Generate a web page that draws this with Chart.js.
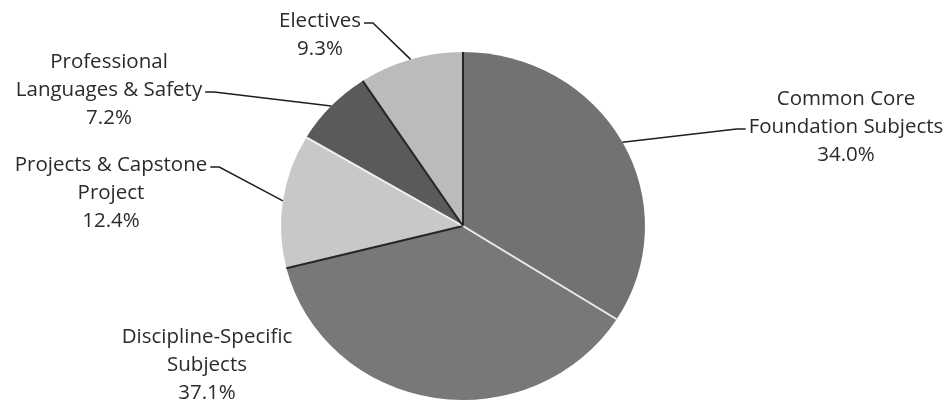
<!DOCTYPE html>
<html>
<head>
<meta charset="utf-8">
<script src="https://cdn.jsdelivr.net/npm/chart.js@4.4.0/dist/chart.umd.min.js"></script>
<style>
  html, body { margin: 0; padding: 0; background: #fff; }
  canvas { display: block; }
</style>
</head>
<body>
<canvas id="pie" width="950" height="402"></canvas>
<script>
const categories = ['Common Core Foundation Subjects', 'Discipline-Specific Subjects', 'Projects & Capstone Project', 'Professional Languages & Safety', 'Electives'];
const shares = [34.0, 37.1, 12.4, 7.2, 9.3];
const labelLines = [
  ['Common Core', 'Foundation Subjects'],
  ['Discipline-Specific', 'Subjects'],
  ['Projects & Capstone', 'Project'],
  ['Professional', 'Languages & Safety'],
  ['Electives']
];

const fills = ['#727272', '#787878', '#c8c8c8', '#5a5a5a', '#bbbbbb'];
// line drawn at the start edge of each slice
const sepColors = ['#262626', '#ececec', '#262626', '#f2f2f2', '#262626'];
// text block: center x, baseline of first line, side the leader joins, leader row
const labelPos = [
  { x: 846, y: 105, lead: 'left', row: 1 },
  { x: 207, y: 343, lead: null },
  { x: 111, y: 171, lead: 'right', row: 0 },
  { x: 109, y: 68, lead: 'right', row: 1 },
  { x: 320, y: 27, lead: 'right', row: 0 }
];
const lineH = 28;
// pie is drawn a little flattened, like the original
const squash = 0.956;
const centerY = 226;

const pieLabels = {
  id: 'pieLabels',
  beforeDatasetsDraw(chart) {
    const arc = chart.getDatasetMeta(0).data[0];
    const ctx = chart.ctx;
    ctx.save();
    ctx.translate(0, centerY);
    ctx.scale(1, squash);
    ctx.translate(0, -arc.y);
  },
  afterDatasetsDraw(chart) {
    const ctx = chart.ctx;
    const arcs = chart.getDatasetMeta(0).data;
    // separators (still in squashed space)
    arcs.forEach((arc, i) => {
      const { x, y, startAngle, outerRadius } = arc.getProps(['x', 'y', 'startAngle', 'outerRadius'], true);
      ctx.strokeStyle = sepColors[i];
      ctx.lineWidth = 2;
      ctx.beginPath();
      ctx.moveTo(x, y);
      ctx.lineTo(x + Math.cos(startAngle) * outerRadius, y + Math.sin(startAngle) * outerRadius);
      ctx.stroke();
    });
    ctx.restore();

    ctx.save();
    ctx.font = '20.5px "Open Sans"';
    ctx.fillStyle = '#2b2b2b';
    ctx.textAlign = 'center';
    ctx.textBaseline = 'alphabetic';
    arcs.forEach((arc, i) => {
      const p = labelPos[i];
      const lines = labelLines[i].concat([shares[i].toFixed(1) + '%']);
      lines.forEach((t, k) => ctx.fillText(t, p.x, p.y + k * lineH));
      if (!p.lead) return;
      const { x, y, startAngle, endAngle, outerRadius } = arc.getProps(['x', 'y', 'startAngle', 'endAngle', 'outerRadius'], true);
      const mid = (startAngle + endAngle) / 2;
      const ex = x + Math.cos(mid) * outerRadius;
      const ey = centerY + Math.sin(mid) * outerRadius * squash;
      const w = ctx.measureText(lines[p.row]).width;
      const ly = p.y + p.row * lineH - 4;
      const lx = p.lead === 'right' ? p.x + w / 2 + 3 : p.x - w / 2 - 3;
      const kx = p.lead === 'right' ? lx + 9 : lx - 9;
      ctx.strokeStyle = '#1e1e1e';
      ctx.lineWidth = 1.5;
      ctx.beginPath();
      ctx.moveTo(lx, ly);
      ctx.lineTo(kx, ly);
      ctx.lineTo(ex, ey);
      ctx.stroke();
    });
    ctx.restore();
  }
};

new Chart(document.getElementById('pie'), {
  type: 'pie',
  data: {
    labels: categories,
    datasets: [{
      data: shares,
      backgroundColor: fills,
      borderWidth: 0,
      hoverOffset: 0
    }]
  },
  options: {
    responsive: false,
    animation: false,
    events: [],
    layout: { padding: { left: 281, right: 305, top: 19, bottom: 19 } },
    plugins: {
      legend: { display: false },
      tooltip: { enabled: false }
    }
  },
  plugins: [pieLabels]
});
</script>
</body>
</html>
